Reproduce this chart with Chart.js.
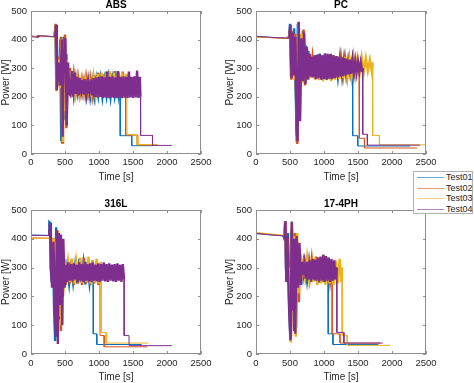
<!DOCTYPE html>
<html>
<head>
<meta charset="utf-8">
<script src="https://cdn.jsdelivr.net/npm/chart.js@4.4.1/dist/chart.umd.min.js"></script>
<style>
    body { margin: 0; background: #fff; width: 474px; height: 383px; overflow: hidden; position: relative; font-family: 'Liberation Sans', Arial, sans-serif; }
    .panel { position: absolute; }
    #legend { position: absolute; left: 413px; top: 171px; width: 60px; height: 43px; border: 1px solid #b0b0b0; background: #fff; box-sizing: border-box; }
    #legend .row { position: relative; height: 10.5px; font-size: 9px; line-height: 10.5px; color: #262626; }
    #legend .swatch { position: absolute; left: 3px; top: 5px; width: 27px; height: 1px; opacity: 0.6; }
    #legend .label { position: absolute; left: 32px; top: 0; }
</style>
</head>
<body>
<div class="panel" style="left:0;top:0"><canvas id="absChart" width="237" height="190"></canvas></div>
<div class="panel" style="left:224px;top:0"><canvas id="pcChart" width="250" height="190"></canvas></div>
<div class="panel" style="left:0;top:199px"><canvas id="steelChart" width="237" height="184"></canvas></div>
<div class="panel" style="left:224px;top:199px"><canvas id="phChart" width="250" height="184"></canvas></div>
<div id="legend"></div>
<script>
const seriesNames = ['Test01', 'Test02', 'Test03', 'Test04'];
const seriesColors = ['#0072BD', '#D95319', '#EDB120', '#7E2F8E'];
const timeTicks = [0, 500, 1000, 1500, 2000, 2500];
const powerTicks = [0, 100, 200, 300, 400, 500];

// [time s, power W]
const absTest01 = [[0,413],[90,410],[110,414],[345,410],[360,450],[372,230],[390,340],[410,240],[430,400],[445,45],[460,300],[480,410],[500,120],[520,350],[540,230],[560,300],[575,215],[600,280],[630,205],[660,265],[690,210],[720,250],[750,210],[780,255],[810,200],[840,250],[870,198],[900,255],[930,200],[960,260],[990,205],[1020,262],[1050,200],[1080,258],[1110,205],[1140,265],[1170,200],[1200,260],[1230,205],[1260,262],[1290,205],[1310,250],[1312,64],[1480,64],[1482,29],[1790,29]];
const absTest02 = [[0,412],[100,409],[110,414],[350,410],[362,455],[375,220],[395,340],[420,260],[440,410],[458,40],[470,300],[500,418],[520,90],[540,300],[560,220],[575,300],[600,210],[630,280],[660,215],[690,270],[720,210],[750,262],[780,215],[810,268],[840,212],[870,265],[900,205],[930,275],[960,200],[990,285],[1020,205],[1050,280],[1080,200],[1110,288],[1140,205],[1170,282],[1200,200],[1230,290],[1260,205],[1290,285],[1320,200],[1350,288],[1380,210],[1390,250],[1392,66],[1572,66],[1574,31],[1870,31]];
const absTest03 = [[0,411],[120,412],[350,409],[365,450],[378,230],[400,330],[425,230],[450,400],[470,42],[490,380],[510,150],[530,330],[550,210],[570,290],[590,215],[620,285],[650,210],[680,265],[710,215],[740,260],[770,210],[800,265],[830,215],[860,260],[890,210],[920,270],[950,205],[980,280],[1010,200],[1040,285],[1070,205],[1100,280],[1130,200],[1160,290],[1190,205],[1220,285],[1250,200],[1280,290],[1310,205],[1340,285],[1370,205],[1400,280],[1410,240],[1412,68],[1550,68],[1552,33],[1850,33]];
const absTest04 = [[0,410],[100,408],[115,413],[355,410],[368,452],[380,225],[405,320],[430,240],[455,400],[465,60],[480,330],[505,405],[525,100],[545,320],[565,210],[580,205],[600,290],[620,200],[640,285],[660,210],[680,270],[700,205],[720,265],[740,210],[760,258],[780,208],[800,262],[820,212],[840,255],[860,210],[880,260],[900,205],[920,265],[940,200],[960,268],[980,198],[1000,270],[1020,200],[1040,272],[1060,196],[1080,268],[1100,198],[1120,288],[1140,195],[1160,270],[1180,198],[1200,272],[1220,196],[1240,268],[1260,195],[1280,290],[1300,198],[1320,270],[1340,195],[1360,272],[1380,197],[1400,270],[1420,195],[1440,288],[1460,198],[1480,270],[1500,196],[1520,272],[1540,198],[1560,292],[1580,196],[1600,270],[1610,200],[1612,65],[1785,65],[1787,30],[2070,30]];

const pcTest01 = [[0,412],[200,408],[470,405],[485,410],[500,455],[515,270],[530,420],[545,300],[560,440],[580,260],[600,40],[615,455],[630,200],[650,410],[670,280],[690,430],[710,250],[730,380],[750,270],[770,360],[790,280],[815,340],[845,270],[875,345],[905,265],[935,350],[965,262],[995,345],[1025,265],[1055,350],[1085,262],[1115,345],[1145,268],[1175,340],[1205,270],[1235,338],[1265,272],[1295,335],[1325,275],[1355,330],[1385,280],[1415,325],[1420,300],[1422,64],[1495,64],[1497,28],[2270,28]];
const pcTest02 = [[0,410],[200,407],[475,404],[490,412],[505,450],[520,260],[540,430],[555,290],[575,420],[595,120],[608,35],[622,460],[640,150],[660,400],[680,260],[700,435],[720,240],[740,370],[760,265],[780,350],[800,275],[830,340],[860,270],[890,345],[920,262],[950,345],[980,265],[1010,350],[1040,260],[1070,348],[1100,262],[1130,345],[1160,265],[1190,342],[1220,268],[1250,338],[1280,272],[1310,335],[1340,275],[1370,332],[1400,278],[1430,330],[1460,280],[1490,325],[1515,285],[1519,300],[1521,55],[1593,55],[1595,21],[2370,21]];
const pcTest03 = [[0,409],[480,405],[495,410],[510,440],[525,280],[545,420],[565,260],[585,400],[605,60],[625,455],[645,130],[665,420],[685,250],[705,420],[725,255],[745,360],[765,270],[785,345],[805,265],[835,335],[865,260],[895,338],[925,258],[955,340],[985,255],[1015,345],[1045,258],[1075,340],[1105,255],[1135,342],[1165,260],[1195,338],[1225,262],[1255,335],[1285,265],[1315,340],[1345,268],[1375,335],[1405,272],[1435,340],[1465,278],[1495,335],[1525,285],[1555,338],[1585,288],[1615,335],[1645,290],[1675,330],[1705,285],[1714,320],[1716,65],[1813,65],[1815,32],[2500,32]];
const pcTest04 = [[0,411],[200,408],[478,405],[492,410],[508,452],[522,265],[542,425],[560,275],[580,410],[598,80],[612,45],[628,462],[648,115],[668,405],[688,255],[708,425],[728,245],[748,375],[768,260],[788,350],[808,270],[820,340],[840,268],[860,345],[880,262],[900,348],[920,265],[940,350],[960,260],[980,345],[1000,262],[1020,352],[1040,260],[1060,348],[1080,263],[1100,350],[1120,262],[1140,345],[1160,265],[1180,342],[1200,268],[1220,340],[1240,270],[1260,338],[1280,272],[1300,335],[1320,275],[1340,333],[1360,278],[1380,330],[1400,280],[1420,328],[1440,282],[1460,325],[1480,285],[1500,322],[1520,288],[1540,320],[1560,290],[1568,300],[1570,69],[1636,69],[1638,31],[2410,31]];

const steelTest01 = [[0,413],[265,412],[270,458],[285,455],[290,300],[305,250],[320,400],[340,150],[355,45],[370,440],[385,250],[400,380],[420,120],[440,400],[460,240],[480,330],[500,250],[530,305],[560,245],[590,320],[620,250],[650,310],[680,245],[710,330],[740,250],[770,315],[800,242],[830,320],[860,248],[890,315],[914,255],[916,70],[966,70],[968,33],[1628,33]];
const steelTest02 = [[0,403],[325,402],[335,300],[350,230],[365,380],[380,60],[395,420],[410,150],[425,410],[440,80],[455,380],[470,200],[490,330],[510,240],[540,320],[570,245],[600,330],[630,240],[660,315],[690,245],[720,325],[750,240],[780,335],[810,245],[840,318],[870,240],[900,325],[930,245],[960,320],[990,240],[1013,300],[1015,64],[1074,64],[1076,25],[1710,25]];
const steelTest03 = [[0,402],[328,401],[338,310],[355,240],[372,390],[388,80],[402,430],[418,130],[432,400],[448,100],[462,390],[478,220],[495,320],[515,250],[545,320],[575,250],[605,330],[635,245],[665,318],[695,250],[725,335],[755,248],[785,320],[815,250],[845,338],[875,245],[905,325],[935,250],[965,330],[995,245],[1025,320],[1030,260],[1032,75],[1103,75],[1105,38],[1725,38]];
const steelTest04 = [[0,412],[268,411],[280,455],[292,300],[310,230],[330,390],[350,200],[365,60],[380,430],[395,35],[410,420],[425,170],[440,415],[460,100],[475,400],[495,230],[515,310],[530,250],[550,318],[570,255],[590,312],[610,252],[630,315],[650,258],[670,310],[690,250],[710,318],[730,255],[750,312],[770,250],[790,320],[810,255],[830,312],[850,252],[870,315],[890,250],[910,318],[930,255],[950,310],[970,252],[990,315],[1010,250],[1030,312],[1050,255],[1070,318],[1090,252],[1110,312],[1130,250],[1150,315],[1170,255],[1190,310],[1210,252],[1230,312],[1250,250],[1270,315],[1290,255],[1310,310],[1330,250],[1350,312],[1368,260],[1370,64],[1441,64],[1443,29],[2069,29]];

const phTest01 = [[0,418],[200,414],[405,410],[418,400],[428,460],[440,300],[455,250],[470,420],[490,180],[505,45],[520,430],[540,250],[560,80],[580,400],[600,220],[620,380],[640,250],[660,320],[690,265],[720,315],[750,255],[780,320],[810,250],[840,330],[870,255],[900,335],[930,248],[960,330],[990,250],[1020,340],[1050,255],[1060,300],[1062,70],[1130,70],[1132,33],[1800,33]];
const phTest02 = [[0,420],[200,415],[410,411],[422,412],[435,455],[450,260],[468,400],[485,280],[500,120],[515,60],[530,455],[550,160],[570,420],[590,90],[610,390],[630,180],[650,350],[670,260],[700,320],[730,270],[760,325],[790,262],[820,330],[850,258],[880,338],[910,255],[940,335],[970,252],[1000,342],[1030,255],[1060,330],[1090,250],[1118,300],[1120,70],[1233,70],[1235,38],[1830,38]];
const phTest03 = [[0,422],[200,417],[415,412],[430,460],[445,270],[460,380],[478,240],[495,300],[512,40],[528,440],[545,200],[565,410],[585,60],[605,420],[625,210],[645,360],[665,250],[690,330],[720,270],[750,335],[780,262],[810,330],[840,250],[870,335],[900,240],[930,330],[960,245],[990,340],[1020,240],[1050,335],[1080,245],[1110,320],[1140,240],[1170,325],[1200,245],[1230,330],[1255,250],[1265,300],[1267,65],[1340,65],[1342,30],[1976,30]];
const phTest04 = [[0,419],[200,414],[408,410],[420,405],[432,462],[446,250],[462,410],[480,200],[498,90],[510,48],[525,460],[545,150],[562,400],[578,70],[598,410],[618,230],[640,385],[658,240],[675,320],[690,275],[710,315],[730,262],[750,320],[770,258],[790,325],[810,255],[830,330],[850,258],[870,328],[890,255],[910,335],[930,252],[950,338],[970,255],[990,345],[1010,250],[1030,340],[1050,255],[1070,335],[1090,250],[1110,330],[1130,255],[1150,325],[1170,258],[1187,300],[1189,75],[1291,75],[1293,38],[1864,38]];

const fontFamily = "'Liberation Sans', Arial, sans-serif";

// box round the plot area with inward tick marks, MATLAB style
const boxPlugin = {
    id: 'matlabBox',
    afterDraw(chart) {
        const { ctx, chartArea: a, scales: { x, y } } = chart;
        ctx.save();
        ctx.strokeStyle = '#8f8f8f';
        ctx.lineWidth = 1;
        ctx.strokeRect(a.left + 0.5, a.top + 0.5, a.width - 1, a.height - 1);
        ctx.beginPath();
        x.ticks.forEach(t => {
            const px = Math.round(x.getPixelForValue(t.value)) + 0.5;
            ctx.moveTo(px, a.bottom); ctx.lineTo(px, a.bottom - 3);
            ctx.moveTo(px, a.top); ctx.lineTo(px, a.top + 3);
        });
        y.ticks.forEach(t => {
            const py = Math.round(y.getPixelForValue(t.value)) + 0.5;
            ctx.moveTo(a.left, py); ctx.lineTo(a.left + 3, py);
            ctx.moveTo(a.right, py); ctx.lineTo(a.right - 3, py);
        });
        ctx.stroke();
        ctx.restore();
    }
};

// the recorded traces oscillate far faster than a pixel, so the short
// oscillation segments are stroked wider to read as the solid band of the original
function segmentWidth(ctx) {
    const dx = Math.abs(ctx.p1.parsed.x - ctx.p0.parsed.x);
    return dx >= 5 && dx <= 35 ? 2.4 : 1;
}

function makePanel(p) {
    const datasets = p.series.map((pts, i) => ({
        label: seriesNames[i],
        data: pts.map(([t, w]) => ({ x: t, y: w })),
        borderColor: seriesColors[i],
        borderWidth: 1,
        segment: { borderWidth: segmentWidth },
        pointRadius: 0,
        tension: 0,
        order: seriesNames.length - i
    }));

    new Chart(document.getElementById(p.id), {
        type: 'line',
        data: { datasets },
        plugins: [boxPlugin],
        options: {
            responsive: false,
            animation: false,
            devicePixelRatio: 1,
            layout: { padding: { left: 0, right: p.padRight, top: 0, bottom: 0 } },
            plugins: {
                legend: { display: false },
                tooltip: { enabled: false },
                title: {
                    display: true,
                    text: p.title,
                    fullSize: false,
                    color: '#000',
                    font: { family: fontFamily, size: 10, weight: 'bold', lineHeight: 1 },
                    padding: { top: 0, bottom: 1 }
                }
            },
            scales: {
                x: {
                    type: 'linear',
                    min: timeTicks[0],
                    max: timeTicks[timeTicks.length - 1],
                    afterBuildTicks: axis => { axis.ticks = timeTicks.map(v => ({ value: v })); },
                    afterFit: axis => { axis.height = p.xAxisHeight; },
                    grid: { display: false, drawTicks: false },
                    border: { display: false },
                    ticks: { padding: p.xTickPad, color: '#262626', maxRotation: 0, autoSkip: false, font: { family: fontFamily, size: 9.5 }, callback: v => String(v) },
                    title: { display: true, text: 'Time [s]', color: '#262626', font: { family: fontFamily, size: 10 }, padding: { top: 0, bottom: p.xTitlePad } }
                },
                y: {
                    type: 'linear',
                    min: powerTicks[0],
                    max: powerTicks[powerTicks.length - 1],
                    afterBuildTicks: axis => { axis.ticks = powerTicks.map(v => ({ value: v })); },
                    afterFit: axis => { axis.width = p.yAxisWidth; },
                    grid: { display: false, drawTicks: false },
                    border: { display: false },
                    ticks: { padding: 4, color: '#262626', font: { family: fontFamily, size: 9.5 }, callback: v => String(v) },
                    title: { display: true, text: 'Power [W]', color: '#262626', font: { family: fontFamily, size: 10 }, padding: { top: 0, bottom: 0 } }
                }
            }
        }
    });
}

makePanel({ id: 'absChart', title: 'ABS', series: [absTest01, absTest02, absTest03, absTest04], yAxisWidth: 31, xAxisHeight: 36, padRight: 36, xTickPad: 3, xTitlePad: 7 });
makePanel({ id: 'pcChart', title: 'PC', series: [pcTest01, pcTest02, pcTest03, pcTest04], yAxisWidth: 32, xAxisHeight: 36, padRight: 48, xTickPad: 3, xTitlePad: 7 });
makePanel({ id: 'steelChart', title: '316L', series: [steelTest01, steelTest02, steelTest03, steelTest04], yAxisWidth: 31, xAxisHeight: 29, padRight: 36, xTickPad: 4, xTitlePad: 0 });
makePanel({ id: 'phChart', title: '17-4PH', series: [phTest01, phTest02, phTest03, phTest04], yAxisWidth: 32, xAxisHeight: 29, padRight: 48, xTickPad: 4, xTitlePad: 0 });

// legend box sitting between the right-hand panels
const legend = document.getElementById('legend');
seriesNames.forEach((name, i) => {
    const row = document.createElement('div');
    row.className = 'row';
    row.innerHTML = `<span class="swatch" style="background:${seriesColors[i]}"></span><span class="label">${name}</span>`;
    legend.appendChild(row);
});
</script>
</body>
</html>
